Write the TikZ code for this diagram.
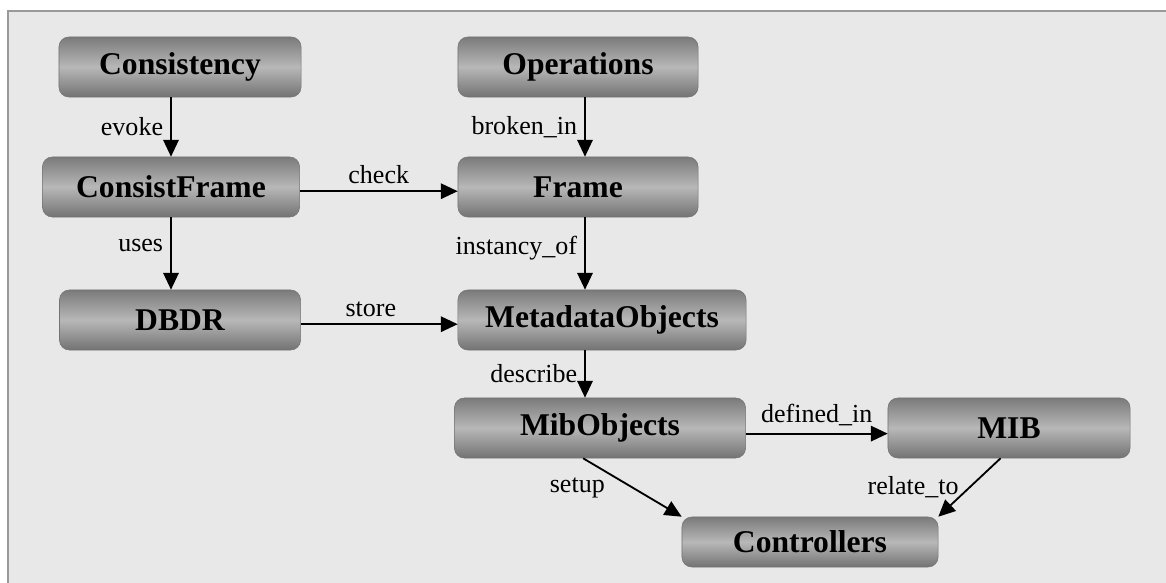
\documentclass[tikz,border=0pt]{standalone}
\usepackage{fontspec}
\setmainfont{Liberation Serif}
\usepackage{xcolor}
\usetikzlibrary{arrows.meta}
\usetikzlibrary{positioning}
\tikzset{
    box/.style = {rectangle, rounded corners=7pt, draw=black!55, thin, align=center,
        top color=black!52, bottom color=black!55, middle color=black!28,
        font=\fontsize{22.5}{26}\selectfont\bfseries,
        minimum width=6cm, minimum height=1.5cm, inner sep=0pt},
    lbl/.style = {font=\fontsize{18.5}{22}\selectfont, inner sep=5pt},
}

\begin{document}
\begin{tikzpicture}[
	x=0.025cm,
	y=-0.025cm
]
\tikzset{
    link/.style = {-{Triangle[length=12pt,width=11pt]}, line width=1.3pt, black}
}
\useasboundingbox (0,0) rectangle (1166,583);
\fill[white] (0,0) rectangle (1166,583);
\fill[black!9] (8,11) rectangle (1166,583);
\draw[black!40, line width=0.8pt] (8,583) -- (8,11) -- (1166,11);
%
\node[box, minimum width=6.05cm] at (180,67) (cons) {Consistency};
\node[box, minimum width=6.425cm] at (171,187) (cframe) {ConsistFrame};
\node[box, minimum width=6.025cm] at (180,320) (dbdr) {DBDR};
\node[box] at (578,67) (ops) {Operations};
\node[box] at (578,187) (frame) {Frame};
\node[box, minimum width=7.2cm] at (602,320) (meta) {MetadataObjects};
\node[box, minimum width=7.275cm] at (600,428) (mibo) {MibObjects};
\node[box, minimum width=6.05cm] at (1009,428) (mib) {MIB};
\node[box, minimum width=6.4cm, minimum height=1.25cm] at (810,542) (ctrl) {Controllers};
\coordinate (spine) at (585,0);
%
\draw[link] (cframe.north |- cons.south) -- node[lbl,left] {evoke} (cframe.north);
\draw[link] (cframe.south) -- node[lbl,left,yshift=6pt] {uses} (cframe.south |- dbdr.north);
\draw[link] ([yshift=-3]cframe.east) -- node[lbl,above] {check} ([yshift=-3]frame.west |- cframe.east);
\draw[link] ([yshift=-3]dbdr.east) -- node[lbl,above,xshift=-6pt] {store} ([yshift=-3]meta.west |- dbdr.east);
%
\draw[link] (spine |- ops.south) -- node[lbl,left] {broken\_in} (spine |- frame.north);
\draw[link] (spine |- frame.south) -- node[lbl,left,yshift=4pt] {instancy\_of} (spine |- meta.north);
\draw[link] (spine |- meta.south) -- node[lbl,left] {describe} (spine |- mibo.north);
%
\draw[link] ([yshift=-4]mibo.east) -- node[lbl,above] {defined\_in} ([yshift=-4]mib.west);
\draw[link] ([xshift=-12]mibo.south) -- node[lbl,left,xshift=-14pt] {setup} (ctrl.north west);
\draw[link] ([xshift=-6]mib.south) -- node[lbl,left,xshift=-2pt] {relate\_to} (ctrl.north east);
\end{tikzpicture}
\end{document}
